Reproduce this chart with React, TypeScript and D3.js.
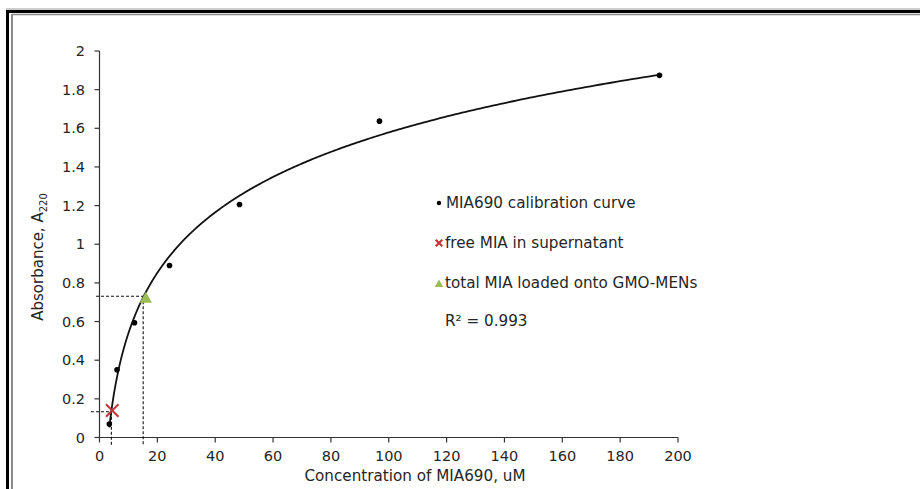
import React from "react";
import * as d3 from "d3";

// Calibration standards (concentration in uM, absorbance at 220 nm)
const calibConc = [3.4, 6.05, 12.1, 24.2, 48.4, 96.8, 193.6];
const calibAbs = [0.07, 0.35, 0.594, 0.89, 1.206, 1.637, 1.874];

// Measured samples
const freeSample = [4.4, 0.14];
const loadedSample = [16.0, 0.72];

// Read-off guides (concentration, absorbance)
const freeGuide = [4.1, 0.133];
const loadedGuide = [15.1, 0.731];

const xTicks = [0, 20, 40, 60, 80, 100, 120, 140, 160, 180, 200];
const yTicks = [0, 0.2, 0.4, 0.6, 0.8, 1, 1.2, 1.4, 1.6, 1.8, 2];

const legendLabels = [
  "MIA690 calibration curve",
  "free MIA in supernatant",
  "total MIA loaded onto GMO-MENs",
];
const r2Label = "R² = 0.993";

const W = 920;
const H = 489;
const FONT = "'DejaVu Sans', Verdana, sans-serif";
const TXT = "#262626";

// Least squares fit y = a*ln(x) + b
function logFit(xs: number[], ys: number[]) {
  const lx = xs.map((v) => Math.log(v));
  const mx = d3.mean(lx)!;
  const my = d3.mean(ys)!;
  let sxy = 0;
  let sxx = 0;
  lx.forEach((v, i) => {
    sxy += (v - mx) * (ys[i] - my);
    sxx += (v - mx) * (v - mx);
  });
  const a = sxy / sxx;
  return { a, b: my - a * mx };
}

export default function App() {
  const x = d3.scaleLinear().domain([0, 200]).range([99.5, 678]);
  const y = d3.scaleLinear().domain([0, 2]).range([437.5, 51]);

  const fit = logFit(calibConc, calibAbs);
  const x0 = d3.min(calibConc)!;
  const x1 = d3.max(calibConc)!;
  const samples = d3.range(0, 401).map((i) => {
    const t = i / 400;
    // log-spaced sampling, denser near the steep low end
    const c = Math.exp(Math.log(x0) + t * (Math.log(x1) - Math.log(x0)));
    return [c, fit.a * Math.log(c) + fit.b] as [number, number];
  });
  const line = d3
    .line<[number, number]>()
    .x((d) => x(d[0]))
    .y((d) => y(d[1]));

  const axisY = y(0);
  const axisX = x(0);

  const triPath = (cx: number, cy: number, s: number) => {
    const h = s * 0.87;
    return `M${cx},${cy - h * 0.6}L${cx + s / 2},${cy + h * 0.4}L${cx - s / 2},${cy + h * 0.4}Z`;
  };
  const crossPath = (cx: number, cy: number, s: number) =>
    `M${cx - s / 2},${cy - s / 2}L${cx + s / 2},${cy + s / 2}M${cx + s / 2},${cy - s / 2}L${cx - s / 2},${cy + s / 2}`;

  const legX = 439;
  const legY = [203, 243, 283];

  return (
    <svg
      width={W}
      height={H}
      style={{ position: "absolute", left: 0, top: 0, background: "#fff" }}
      fontFamily={FONT}
    >
      <rect width={W} height={H} fill="#fff" />
      {/* frame */}
      <line x1={6} x2={W} y1={9} y2={9} stroke="#9a9a9a" strokeWidth={1} />
      <line x1={6} x2={W} y1={11.5} y2={11.5} stroke="#000" strokeWidth={3} />
      <line x1={12} x2={W} y1={14.5} y2={14.5} stroke="#8a8a8a" strokeWidth={1.5} />
      <line x1={7.5} x2={7.5} y1={10} y2={H} stroke="#000" strokeWidth={3} />
      <line x1={12} x2={12} y1={14} y2={H} stroke="#8a8a8a" strokeWidth={2} />

      {/* axes */}
      <line x1={axisX} x2={axisX} y1={y(2)} y2={axisY} stroke="#333" strokeWidth={1.2} />
      <line x1={axisX} x2={x(200)} y1={axisY} y2={axisY} stroke="#333" strokeWidth={1.2} />
      {yTicks.map((t) => (
        <g key={"y" + t}>
          <line x1={axisX - 5} x2={axisX} y1={y(t)} y2={y(t)} stroke="#333" strokeWidth={1.2} />
          <text x={85} y={y(t)} dy="0.35em" textAnchor="end" fontSize={14.5} fill={TXT}>
            {d3.format("~g")(t)}
          </text>
        </g>
      ))}
      {xTicks.map((t) => (
        <g key={"x" + t}>
          <line x1={x(t)} x2={x(t)} y1={axisY} y2={axisY + 5} stroke="#333" strokeWidth={1.2} />
          <text x={x(t)} y={456} dy="0.35em" textAnchor="middle" fontSize={14.5} fill={TXT}>
            {t}
          </text>
        </g>
      ))}
      <text x={415} y={476} dy="0.35em" textAnchor="middle" fontSize={15.2} fill={TXT}>
        Concentration of MIA690, uM
      </text>
      <text
        transform={`translate(43,${257}) rotate(-90)`}
        textAnchor="middle"
        fontSize={15}
        fill={TXT}
      >
        Absorbance, A<tspan fontSize={10} dy={4}>220</tspan>
      </text>

      {/* read-off guides */}
      <g stroke="#111" strokeWidth={1.1} strokeDasharray="3,2" fill="none">
        <line x1={91} x2={x(freeGuide[0])} y1={y(freeGuide[1])} y2={y(freeGuide[1])} />
        <line x1={x(freeGuide[0])} x2={x(freeGuide[0])} y1={y(freeGuide[1])} y2={axisY + 8} />
        <line x1={96} x2={x(loadedGuide[0]) + 2} y1={y(loadedGuide[1])} y2={y(loadedGuide[1])} />
        <line x1={x(loadedGuide[0])} x2={x(loadedGuide[0])} y1={y(loadedGuide[1])} y2={axisY + 8} />
      </g>

      {/* logarithmic trendline */}
      <path d={line(samples) ?? ""} fill="none" stroke="#111" strokeWidth={1.8} />

      {/* calibration points */}
      {calibConc.map((c, i) => (
        <circle key={"p" + i} cx={x(c)} cy={y(calibAbs[i])} r={2.8} fill="#000" />
      ))}

      {/* samples */}
      <path
        d={crossPath(x(freeSample[0]), y(freeSample[1]), 12.5)}
        stroke="#C0353A"
        strokeWidth={2}
        fill="none"
      />
      <path d={triPath(x(loadedSample[0]), y(loadedSample[1]), 12.5)} fill="#9BBB59" />

      {/* legend */}
      <circle cx={legX} cy={legY[0]} r={2.2} fill="#000" />
      <path d={crossPath(legX, legY[1], 6.5)} stroke="#C0353A" strokeWidth={2.2} fill="none" />
      <path d={triPath(legX, legY[2] + 1, 8.5)} fill="#9BBB59" />
      {legendLabels.map((l, i) => (
        <text
          key={l}
          x={i === 0 ? 446 : 445}
          y={legY[i]}
          dy="0.35em"
          fontSize={15.2}
          fill={TXT}
        >
          {l}
        </text>
      ))}
      <text x={445} y={321} dy="0.35em" fontSize={15.2} fill={TXT}>
        {r2Label}
      </text>
    </svg>
  );
}
